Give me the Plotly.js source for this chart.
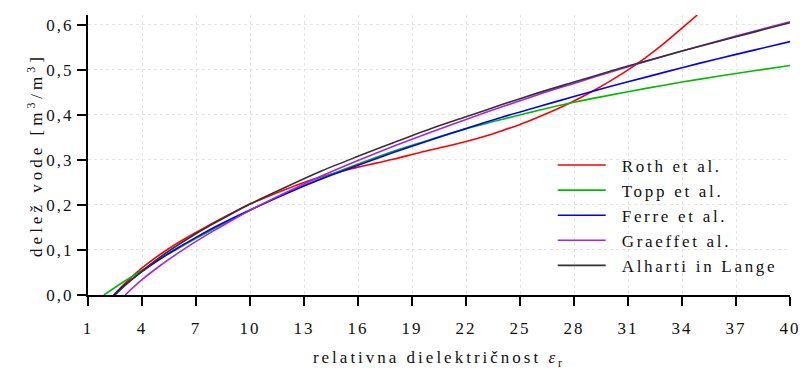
<!DOCTYPE html>
<html>
<head>
<meta charset="utf-8">
<script src="https://cdn.plot.ly/plotly-3.0.1.min.js"></script>
<style>
  html, body { margin: 0; padding: 0; background: #fff; }
  #chart { width: 800px; height: 372px; }
  #chart .legendtext { letter-spacing: 2.7px; transform: translateX(11px); }
  #chart .legend .scrollbox { clip-path: none !important; }
  #chart .g-xtitle text { letter-spacing: 3px; }
  #chart .g-ytitle text { letter-spacing: 4px; }
  #chart .xtick text, #chart .ytick text { letter-spacing: 2px; }
</style>
</head>
<body>
<div id="chart"></div>
<script>
// ---- data ----
const seriesNames = ["Roth et al.", "Topp et al.", "Ferre et al.", "Graeffet al.", "Alharti in Lange"];

const epsRoth   = [2.43, 3, 4, 5, 6, 7, 8, 9, 10, 11, 12, 13, 14, 15, 16, 17, 18, 19, 20, 21, 22, 23, 24, 25, 26, 27, 28, 29, 30, 31, 32, 33, 34, 34.85];
const thetaRoth = [0, 0.024, 0.060, 0.090, 0.116, 0.139, 0.161, 0.182, 0.202, 0.219, 0.235, 0.250, 0.263, 0.274, 0.284, 0.293, 0.302, 0.312, 0.322, 0.331, 0.341, 0.352, 0.365, 0.379, 0.395, 0.412, 0.431, 0.452, 0.475, 0.500, 0.528, 0.559, 0.593, 0.622];

const epsTopp   = [1.88, 3, 4, 5, 6, 7, 8, 10, 12, 14, 16, 18, 20, 22, 24, 26, 28, 30, 32, 34, 36, 38, 40];
const thetaTopp = [0, 0.030, 0.055, 0.080, 0.103, 0.126, 0.147, 0.188, 0.226, 0.260, 0.291, 0.320, 0.345, 0.369, 0.390, 0.410, 0.428, 0.444, 0.459, 0.473, 0.486, 0.498, 0.510];

const epsFerre   = [2.43, 3, 4, 5, 6, 7, 8, 9, 10, 12, 14, 16, 18, 20, 22, 24, 26, 28, 30, 32, 34, 36, 38, 40];
const thetaFerre = [0, 0.021, 0.052, 0.080, 0.105, 0.128, 0.150, 0.170, 0.189, 0.225, 0.258, 0.288, 0.317, 0.344, 0.370, 0.395, 0.418, 0.441, 0.463, 0.484, 0.505, 0.525, 0.544, 0.563];

const epsGraeff   = [3.06, 4, 5, 6, 7, 8, 9, 10, 12, 14, 16, 18, 20, 22, 24, 26, 28, 30, 32, 34, 36, 38, 40];
const thetaGraeff = [0, 0.034, 0.065, 0.093, 0.119, 0.143, 0.166, 0.188, 0.228, 0.265, 0.299, 0.331, 0.361, 0.390, 0.418, 0.445, 0.470, 0.495, 0.519, 0.542, 0.564, 0.586, 0.607];

const epsAlh   = [2.5, 3, 4, 5, 6, 7, 8, 9, 10, 12, 14, 16, 18, 20, 22, 24, 26, 28, 30, 32, 34, 36, 38, 40];
const thetaAlh = [0, 0.019, 0.053, 0.084, 0.111, 0.136, 0.159, 0.181, 0.202, 0.240, 0.276, 0.308, 0.339, 0.369, 0.396, 0.423, 0.449, 0.473, 0.497, 0.520, 0.542, 0.563, 0.584, 0.605];

const xTickVals = [1, 4, 7, 10, 13, 16, 19, 22, 25, 28, 31, 34, 37, 40];
const yTickVals = [0, 0.1, 0.2, 0.3, 0.4, 0.5, 0.6];
const yTickText = ["0,0", "0,1", "0,2", "0,3", "0,4", "0,5", "0,6"];

const colors = ["#ff0000", "#00bb00", "#0000ff", "#aa22ee", "#333333"];

const xs = [epsRoth, epsTopp, epsFerre, epsGraeff, epsAlh];
const ys = [thetaRoth, thetaTopp, thetaFerre, thetaGraeff, thetaAlh];

const traces = seriesNames.map((n, i) => ({
  x: xs[i], y: ys[i], name: n, type: "scatter", mode: "lines",
  line: { color: colors[i], width: 1.6, shape: "spline", smoothing: 0.8 },
  cliponaxis: true
}));

const fontFam = "Liberation Serif, Times New Roman, serif";

const layout = {
  width: 800, height: 372,
  margin: { l: 88, r: 10, t: 15, b: 77 },
  paper_bgcolor: "#ffffff", plot_bgcolor: "#ffffff",
  font: { family: fontFam, size: 17, color: "#111" },
  showlegend: true,
  legend: {
    x: 0.662, y: 0.527, xanchor: "left", yanchor: "top",
    bgcolor: "rgba(0,0,0,0)", borderwidth: 0,
    itemwidth: 48,
    font: { family: fontFam, size: 17, color: "#111" },
    tracegroupgap: 0
  },
  xaxis: {
    range: [1, 40], tickmode: "array", tickvals: xTickVals,
    ticks: "outside", ticklen: 9, tickwidth: 2, tickcolor: "#000",
    showline: true, linecolor: "#000", linewidth: 2,
    showgrid: true, gridcolor: "#e4e4e4", griddash: "dot", gridwidth: 1,
    zeroline: false, ticklabelstandoff: 8,
    tickfont: { family: fontFam, size: 17, color: "#111" },
    title: { text: "relativna dielektričnost <i>ε</i><sub>r</sub>", font: { family: fontFam, size: 17, color: "#111" }, standoff: 14 }
  },
  yaxis: {
    range: [0, 0.622], tickmode: "array", tickvals: yTickVals, ticktext: yTickText,
    ticks: "outside", ticklen: 9, tickwidth: 2, tickcolor: "#000",
    showline: true, linecolor: "#000", linewidth: 2,
    showgrid: true, gridcolor: "#e4e4e4", griddash: "dot", gridwidth: 1,
    zeroline: false,
    tickfont: { family: fontFam, size: 17, color: "#111" },
    title: { text: "delež vode [m<sup>3</sup>/m<sup>3</sup>]", font: { family: fontFam, size: 17, color: "#111" }, standoff: 5 }
  }
};

Plotly.newPlot("chart", traces, layout, { displayModeBar: false, staticPlot: true });
</script>
</body>
</html>
